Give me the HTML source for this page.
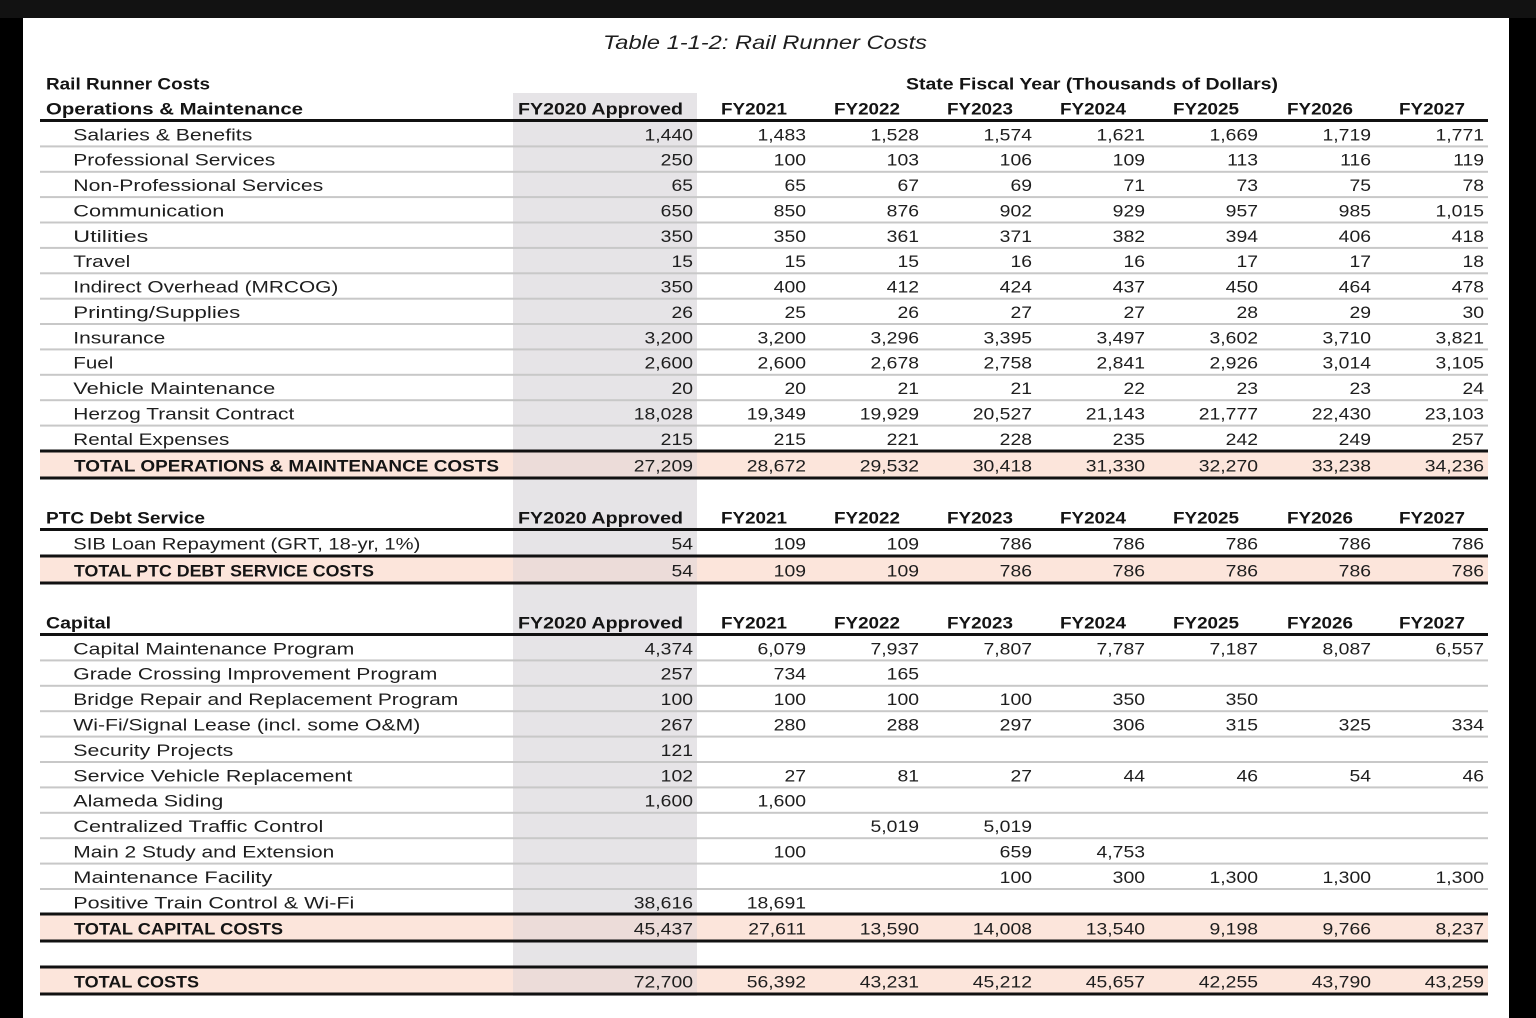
<!DOCTYPE html>
<html><head><meta charset="utf-8"><style>
html,body{margin:0;padding:0;background:#fff}
svg{display:block}
text{font-family:"Liberation Sans",Arial,sans-serif;font-size:17px;fill:#1e1e1e}
.b{font-weight:bold;fill:#141414}
</style></head><body>
<svg width="1536" height="1018" viewBox="0 0 1536 1018" xmlns="http://www.w3.org/2000/svg">
<rect width="1536" height="1018" fill="#fff"/>
<rect x="0" y="0" width="1536" height="18" fill="#121212"/>
<rect x="0" y="18" width="23" height="1000" fill="#000"/>
<rect x="1509" y="18" width="27" height="1000" fill="#000"/>

<!-- shaded column -->
<rect x="513" y="93" width="184" height="903" fill="#e6e4e7"/>

<!-- pink total rows -->
<g fill="#fce5db">
<rect x="40" y="451" width="473" height="27"/><rect x="697" y="451" width="791" height="27"/>
<rect x="40" y="556" width="473" height="27"/><rect x="697" y="556" width="791" height="27"/>
<rect x="40" y="914" width="473" height="27"/><rect x="697" y="914" width="791" height="27"/>
<rect x="40" y="967" width="473" height="27"/><rect x="697" y="967" width="791" height="27"/>
</g>
<g fill="#ecdcd9">
<rect x="513" y="451" width="184" height="27"/>
<rect x="513" y="556" width="184" height="27"/>
<rect x="513" y="914" width="184" height="27"/>
<rect x="513" y="967" width="184" height="27"/>
</g>

<!-- thin lines -->
<g fill="#c8c8c8">
<rect x="40" y="145.4" width="1448" height="2"/>
<rect x="40" y="170.8" width="1448" height="2"/>
<rect x="40" y="196.1" width="1448" height="2"/>
<rect x="40" y="221.5" width="1448" height="2"/>
<rect x="40" y="246.9" width="1448" height="2"/>
<rect x="40" y="272.3" width="1448" height="2"/>
<rect x="40" y="297.7" width="1448" height="2"/>
<rect x="40" y="323.0" width="1448" height="2"/>
<rect x="40" y="348.4" width="1448" height="2"/>
<rect x="40" y="373.8" width="1448" height="2"/>
<rect x="40" y="399.2" width="1448" height="2"/>
<rect x="40" y="424.6" width="1448" height="2"/>
<rect x="40" y="659.4" width="1448" height="2"/>
<rect x="40" y="684.8" width="1448" height="2"/>
<rect x="40" y="710.2" width="1448" height="2"/>
<rect x="40" y="735.6" width="1448" height="2"/>
<rect x="40" y="761.0" width="1448" height="2"/>
<rect x="40" y="786.4" width="1448" height="2"/>
<rect x="40" y="811.8" width="1448" height="2"/>
<rect x="40" y="837.2" width="1448" height="2"/>
<rect x="40" y="862.6" width="1448" height="2"/>
<rect x="40" y="888.0" width="1448" height="2"/>
</g>

<!-- thick lines -->
<g fill="#111">
<rect x="40" y="119" width="1448" height="3"/>
<rect x="40" y="449.5" width="1448" height="3"/>
<rect x="40" y="476.5" width="1448" height="3"/>
<rect x="40" y="528" width="1448" height="3"/>
<rect x="40" y="554.5" width="1448" height="3"/>
<rect x="40" y="581.5" width="1448" height="3"/>
<rect x="40" y="633" width="1448" height="3"/>
<rect x="40" y="912.5" width="1448" height="3"/>
<rect x="40" y="939.5" width="1448" height="3"/>
<rect x="40" y="965.5" width="1448" height="3"/>
<rect x="40" y="992.5" width="1448" height="3"/>
</g>

<!-- title -->
<text x="603" y="49" font-size="19" font-style="italic" textLength="324" lengthAdjust="spacingAndGlyphs" style="font-size:19px;font-style:italic">Table 1-1-2: Rail Runner Costs</text>

<!-- headers -->
<text class="b" x="46" y="89.5" textLength="164" lengthAdjust="spacingAndGlyphs">Rail Runner Costs</text>
<text class="b" x="906" y="89.5" textLength="372" lengthAdjust="spacingAndGlyphs">State Fiscal Year (Thousands of Dollars)</text>
<text class="b" x="46" y="114.5" textLength="257" lengthAdjust="spacingAndGlyphs">Operations &amp; Maintenance</text>
<text class="b" x="46" y="523.5" textLength="159" lengthAdjust="spacingAndGlyphs">PTC Debt Service</text>
<text class="b" x="46" y="628.5" textLength="65" lengthAdjust="spacingAndGlyphs">Capital</text>

<g class="b">
<text class="b" x="518" y="114.5" textLength="165" lengthAdjust="spacingAndGlyphs">FY2020 Approved</text>
<text class="b" x="721" y="114.5" textLength="66" lengthAdjust="spacingAndGlyphs">FY2021</text>
<text class="b" x="834" y="114.5" textLength="66" lengthAdjust="spacingAndGlyphs">FY2022</text>
<text class="b" x="947" y="114.5" textLength="66" lengthAdjust="spacingAndGlyphs">FY2023</text>
<text class="b" x="1060" y="114.5" textLength="66" lengthAdjust="spacingAndGlyphs">FY2024</text>
<text class="b" x="1173" y="114.5" textLength="66" lengthAdjust="spacingAndGlyphs">FY2025</text>
<text class="b" x="1287" y="114.5" textLength="66" lengthAdjust="spacingAndGlyphs">FY2026</text>
<text class="b" x="1399" y="114.5" textLength="66" lengthAdjust="spacingAndGlyphs">FY2027</text>

<text class="b" x="518" y="523.5" textLength="165" lengthAdjust="spacingAndGlyphs">FY2020 Approved</text>
<text class="b" x="721" y="523.5" textLength="66" lengthAdjust="spacingAndGlyphs">FY2021</text>
<text class="b" x="834" y="523.5" textLength="66" lengthAdjust="spacingAndGlyphs">FY2022</text>
<text class="b" x="947" y="523.5" textLength="66" lengthAdjust="spacingAndGlyphs">FY2023</text>
<text class="b" x="1060" y="523.5" textLength="66" lengthAdjust="spacingAndGlyphs">FY2024</text>
<text class="b" x="1173" y="523.5" textLength="66" lengthAdjust="spacingAndGlyphs">FY2025</text>
<text class="b" x="1287" y="523.5" textLength="66" lengthAdjust="spacingAndGlyphs">FY2026</text>
<text class="b" x="1399" y="523.5" textLength="66" lengthAdjust="spacingAndGlyphs">FY2027</text>

<text class="b" x="518" y="628.5" textLength="165" lengthAdjust="spacingAndGlyphs">FY2020 Approved</text>
<text class="b" x="721" y="628.5" textLength="66" lengthAdjust="spacingAndGlyphs">FY2021</text>
<text class="b" x="834" y="628.5" textLength="66" lengthAdjust="spacingAndGlyphs">FY2022</text>
<text class="b" x="947" y="628.5" textLength="66" lengthAdjust="spacingAndGlyphs">FY2023</text>
<text class="b" x="1060" y="628.5" textLength="66" lengthAdjust="spacingAndGlyphs">FY2024</text>
<text class="b" x="1173" y="628.5" textLength="66" lengthAdjust="spacingAndGlyphs">FY2025</text>
<text class="b" x="1287" y="628.5" textLength="66" lengthAdjust="spacingAndGlyphs">FY2026</text>
<text class="b" x="1399" y="628.5" textLength="66" lengthAdjust="spacingAndGlyphs">FY2027</text>
</g>

<!-- row labels -->
<g>
<text x="73.3" y="140.3" textLength="179" lengthAdjust="spacingAndGlyphs">Salaries &amp; Benefits</text>
<text x="73.3" y="165.7" textLength="202" lengthAdjust="spacingAndGlyphs">Professional Services</text>
<text x="73.3" y="191.1" textLength="250" lengthAdjust="spacingAndGlyphs">Non-Professional Services</text>
<text x="73.3" y="216.4" textLength="151" lengthAdjust="spacingAndGlyphs">Communication</text>
<text x="73.3" y="241.8" textLength="75" lengthAdjust="spacingAndGlyphs">Utilities</text>
<text x="73.3" y="267.2" textLength="57" lengthAdjust="spacingAndGlyphs">Travel</text>
<text x="73.3" y="292.6" textLength="265" lengthAdjust="spacingAndGlyphs">Indirect Overhead (MRCOG)</text>
<text x="73.3" y="318.0" textLength="167" lengthAdjust="spacingAndGlyphs">Printing/Supplies</text>
<text x="73.3" y="343.3" textLength="92" lengthAdjust="spacingAndGlyphs">Insurance</text>
<text x="73.3" y="368.7" textLength="40" lengthAdjust="spacingAndGlyphs">Fuel</text>
<text x="73.3" y="394.1" textLength="202" lengthAdjust="spacingAndGlyphs">Vehicle Maintenance</text>
<text x="73.3" y="419.5" textLength="221" lengthAdjust="spacingAndGlyphs">Herzog Transit Contract</text>
<text x="73.3" y="444.9" textLength="156" lengthAdjust="spacingAndGlyphs">Rental Expenses</text>
<text class="b" x="74" y="471.5" textLength="425" lengthAdjust="spacingAndGlyphs">TOTAL OPERATIONS &amp; MAINTENANCE COSTS</text>

<text x="73.3" y="549.5" textLength="347" lengthAdjust="spacingAndGlyphs">SIB Loan Repayment (GRT, 18-yr, 1%)</text>
<text class="b" x="74" y="576.5" textLength="300" lengthAdjust="spacingAndGlyphs">TOTAL PTC DEBT SERVICE COSTS</text>

<text x="73.3" y="654.3" textLength="281" lengthAdjust="spacingAndGlyphs">Capital Maintenance Program</text>
<text x="73.3" y="679.7" textLength="364" lengthAdjust="spacingAndGlyphs">Grade Crossing Improvement Program</text>
<text x="73.3" y="705.1" textLength="385" lengthAdjust="spacingAndGlyphs">Bridge Repair and Replacement Program</text>
<text x="73.3" y="730.5" textLength="347" lengthAdjust="spacingAndGlyphs">Wi-Fi/Signal Lease (incl. some O&amp;M)</text>
<text x="73.3" y="755.9" textLength="160" lengthAdjust="spacingAndGlyphs">Security Projects</text>
<text x="73.3" y="781.3" textLength="279" lengthAdjust="spacingAndGlyphs">Service Vehicle Replacement</text>
<text x="73.3" y="806.7" textLength="150" lengthAdjust="spacingAndGlyphs">Alameda Siding</text>
<text x="73.3" y="832.1" textLength="250" lengthAdjust="spacingAndGlyphs">Centralized Traffic Control</text>
<text x="73.3" y="857.5" textLength="261" lengthAdjust="spacingAndGlyphs">Main 2 Study and Extension</text>
<text x="73.3" y="882.9" textLength="199" lengthAdjust="spacingAndGlyphs">Maintenance Facility</text>
<text x="73.3" y="908.3" textLength="281" lengthAdjust="spacingAndGlyphs">Positive Train Control &amp; Wi-Fi</text>
<text class="b" x="74" y="934.5" textLength="209" lengthAdjust="spacingAndGlyphs">TOTAL CAPITAL COSTS</text>
<text class="b" x="74" y="987.5" textLength="125" lengthAdjust="spacingAndGlyphs">TOTAL COSTS</text>
</g>

<!-- numbers: FY2020 -->
<g transform="translate(693,0) scale(1.14,1)" text-anchor="end">
<text y="140.3">1,440</text><text y="165.7">250</text><text y="191.1">65</text><text y="216.4">650</text><text y="241.8">350</text><text y="267.2">15</text><text y="292.6">350</text><text y="318.0">26</text><text y="343.3">3,200</text><text y="368.7">2,600</text><text y="394.1">20</text><text y="419.5">18,028</text><text y="444.9">215</text><text y="471.5">27,209</text>
<text y="549.5">54</text><text y="576.5">54</text>
<text y="654.3">4,374</text><text y="679.7">257</text><text y="705.1">100</text><text y="730.5">267</text><text y="755.9">121</text><text y="781.3">102</text><text y="806.7">1,600</text><text y="908.3">38,616</text><text y="934.5">45,437</text><text y="987.5">72,700</text>
</g>
<!-- FY2021 -->
<g transform="translate(806,0) scale(1.14,1)" text-anchor="end">
<text y="140.3">1,483</text><text y="165.7">100</text><text y="191.1">65</text><text y="216.4">850</text><text y="241.8">350</text><text y="267.2">15</text><text y="292.6">400</text><text y="318.0">25</text><text y="343.3">3,200</text><text y="368.7">2,600</text><text y="394.1">20</text><text y="419.5">19,349</text><text y="444.9">215</text><text y="471.5">28,672</text>
<text y="549.5">109</text><text y="576.5">109</text>
<text y="654.3">6,079</text><text y="679.7">734</text><text y="705.1">100</text><text y="730.5">280</text><text y="781.3">27</text><text y="806.7">1,600</text><text y="857.5">100</text><text y="908.3">18,691</text><text y="934.5">27,611</text><text y="987.5">56,392</text>
</g>
<!-- FY2022 -->
<g transform="translate(919,0) scale(1.14,1)" text-anchor="end">
<text y="140.3">1,528</text><text y="165.7">103</text><text y="191.1">67</text><text y="216.4">876</text><text y="241.8">361</text><text y="267.2">15</text><text y="292.6">412</text><text y="318.0">26</text><text y="343.3">3,296</text><text y="368.7">2,678</text><text y="394.1">21</text><text y="419.5">19,929</text><text y="444.9">221</text><text y="471.5">29,532</text>
<text y="549.5">109</text><text y="576.5">109</text>
<text y="654.3">7,937</text><text y="679.7">165</text><text y="705.1">100</text><text y="730.5">288</text><text y="781.3">81</text><text y="832.1">5,019</text><text y="934.5">13,590</text><text y="987.5">43,231</text>
</g>
<!-- FY2023 -->
<g transform="translate(1032,0) scale(1.14,1)" text-anchor="end">
<text y="140.3">1,574</text><text y="165.7">106</text><text y="191.1">69</text><text y="216.4">902</text><text y="241.8">371</text><text y="267.2">16</text><text y="292.6">424</text><text y="318.0">27</text><text y="343.3">3,395</text><text y="368.7">2,758</text><text y="394.1">21</text><text y="419.5">20,527</text><text y="444.9">228</text><text y="471.5">30,418</text>
<text y="549.5">786</text><text y="576.5">786</text>
<text y="654.3">7,807</text><text y="705.1">100</text><text y="730.5">297</text><text y="781.3">27</text><text y="832.1">5,019</text><text y="857.5">659</text><text y="882.9">100</text><text y="934.5">14,008</text><text y="987.5">45,212</text>
</g>
<!-- FY2024 -->
<g transform="translate(1145,0) scale(1.14,1)" text-anchor="end">
<text y="140.3">1,621</text><text y="165.7">109</text><text y="191.1">71</text><text y="216.4">929</text><text y="241.8">382</text><text y="267.2">16</text><text y="292.6">437</text><text y="318.0">27</text><text y="343.3">3,497</text><text y="368.7">2,841</text><text y="394.1">22</text><text y="419.5">21,143</text><text y="444.9">235</text><text y="471.5">31,330</text>
<text y="549.5">786</text><text y="576.5">786</text>
<text y="654.3">7,787</text><text y="705.1">350</text><text y="730.5">306</text><text y="781.3">44</text><text y="857.5">4,753</text><text y="882.9">300</text><text y="934.5">13,540</text><text y="987.5">45,657</text>
</g>
<!-- FY2025 -->
<g transform="translate(1258,0) scale(1.14,1)" text-anchor="end">
<text y="140.3">1,669</text><text y="165.7">113</text><text y="191.1">73</text><text y="216.4">957</text><text y="241.8">394</text><text y="267.2">17</text><text y="292.6">450</text><text y="318.0">28</text><text y="343.3">3,602</text><text y="368.7">2,926</text><text y="394.1">23</text><text y="419.5">21,777</text><text y="444.9">242</text><text y="471.5">32,270</text>
<text y="549.5">786</text><text y="576.5">786</text>
<text y="654.3">7,187</text><text y="705.1">350</text><text y="730.5">315</text><text y="781.3">46</text><text y="882.9">1,300</text><text y="934.5">9,198</text><text y="987.5">42,255</text>
</g>
<!-- FY2026 -->
<g transform="translate(1371,0) scale(1.14,1)" text-anchor="end">
<text y="140.3">1,719</text><text y="165.7">116</text><text y="191.1">75</text><text y="216.4">985</text><text y="241.8">406</text><text y="267.2">17</text><text y="292.6">464</text><text y="318.0">29</text><text y="343.3">3,710</text><text y="368.7">3,014</text><text y="394.1">23</text><text y="419.5">22,430</text><text y="444.9">249</text><text y="471.5">33,238</text>
<text y="549.5">786</text><text y="576.5">786</text>
<text y="654.3">8,087</text><text y="730.5">325</text><text y="781.3">54</text><text y="882.9">1,300</text><text y="934.5">9,766</text><text y="987.5">43,790</text>
</g>
<!-- FY2027 -->
<g transform="translate(1484,0) scale(1.14,1)" text-anchor="end">
<text y="140.3">1,771</text><text y="165.7">119</text><text y="191.1">78</text><text y="216.4">1,015</text><text y="241.8">418</text><text y="267.2">18</text><text y="292.6">478</text><text y="318.0">30</text><text y="343.3">3,821</text><text y="368.7">3,105</text><text y="394.1">24</text><text y="419.5">23,103</text><text y="444.9">257</text><text y="471.5">34,236</text>
<text y="549.5">786</text><text y="576.5">786</text>
<text y="654.3">6,557</text><text y="730.5">334</text><text y="781.3">46</text><text y="882.9">1,300</text><text y="934.5">8,237</text><text y="987.5">43,259</text>
</g>
</svg>
</body></html>
